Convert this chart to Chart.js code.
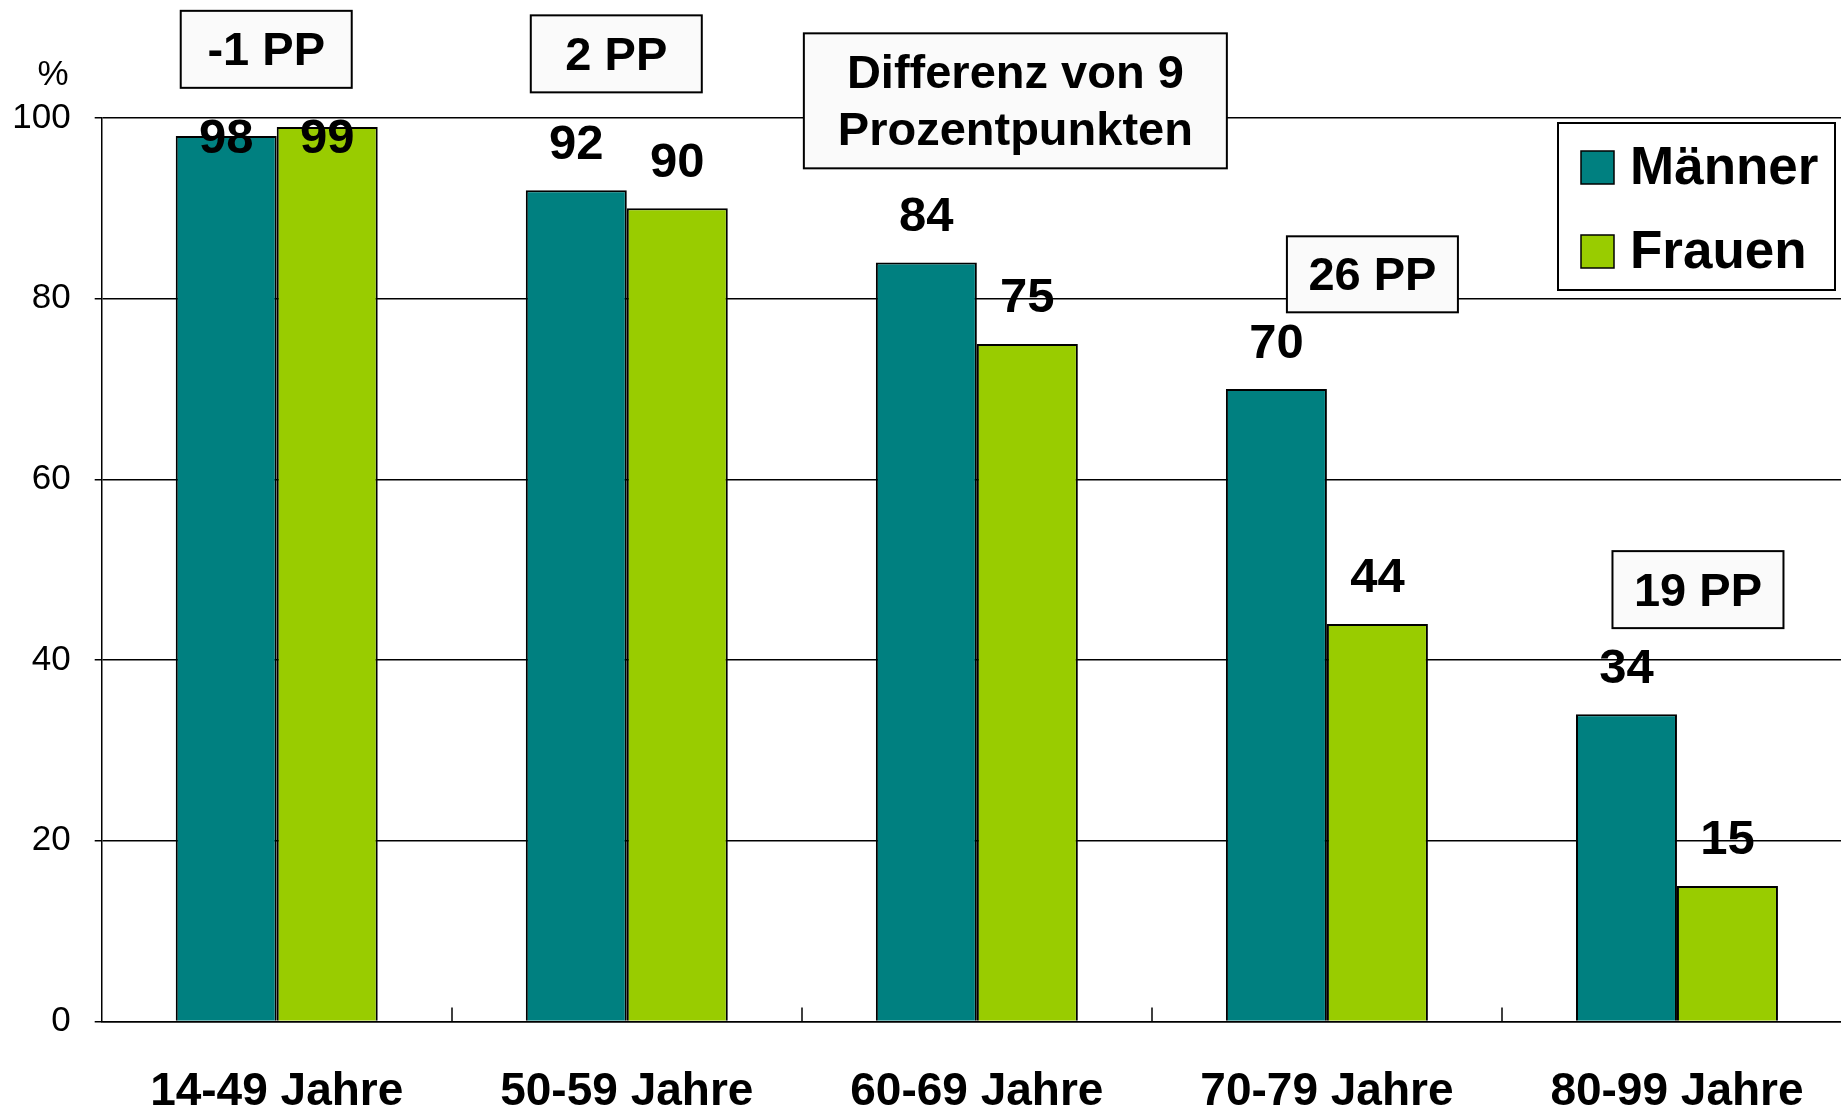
<!DOCTYPE html>
<html>
<head>
<meta charset="utf-8">
<script src="https://cdn.jsdelivr.net/npm/chart.js@4/dist/chart.umd.min.js"></script>
<style>
html, body { margin: 0; padding: 0; overflow: hidden; background: #fff; }
#wrap { width: 1852px; height: 1110px; }
</style>
</head>
<body>
<div id="wrap"><canvas id="chart" width="1852" height="1110"></canvas></div>
<script>
const categories = ["14-49 Jahre", "50-59 Jahre", "60-69 Jahre", "70-79 Jahre", "80-99 Jahre"];
const maenner = [98, 92, 84, 70, 34];
const frauen = [99, 90, 75, 44, 15];
const yTicks = [0, 20, 40, 60, 80, 100];
const notes = [["-1 PP"], ["2 PP"], ["Differenz von 9", "Prozentpunkten"], ["26 PP"], ["19 PP"]];

// placement of the note boxes: [category position, value at box centre, width, height]
const noteLayout = [[-0.03, 107.6, 171, 77], [0.97, 107.1, 171, 77], [2.11, 101.9, 423, 135], [3.13, 82.7, 171, 76], [4.06, 47.8, 171, 77]];

const FONT = '"Liberation Sans", Arial, sans-serif';

const extras = {
    id: "extras",
    afterDatasetsDraw(chart) {
        const ctx = chart.ctx;
        const x = chart.scales.x;
        const y = chart.scales.y;
        const area = chart.chartArea;
        ctx.save();

        // small ticks between the groups
        ctx.strokeStyle = "#000";
        ctx.lineWidth = 1.5;
        for (let i = 1; i < categories.length; i++) {
            const px = Math.round((x.getPixelForValue(i - 1) + x.getPixelForValue(i)) / 2);
            ctx.beginPath();
            ctx.moveTo(px, area.bottom);
            ctx.lineTo(px, area.bottom - 14);
            ctx.stroke();
        }

        // value labels
        ctx.fillStyle = "#000";
        ctx.textAlign = "center";
        ctx.textBaseline = "middle";
        ctx.font = "bold 49px " + FONT;
        chart.data.datasets.forEach((ds, di) => {
            chart.getDatasetMeta(di).data.forEach((bar, i) => {
                const ly = Math.max(bar.y - 45, area.top + 21);
                ctx.fillText(ds.data[i], bar.x, ly);
            });
        });

        // "%" above the axis
        ctx.font = "35px " + FONT;
        ctx.fillText("%", 53, y.getPixelForValue(100) - 43);

        // note boxes
        notes.forEach((lines, i) => {
            const [pos, val, w, h] = noteLayout[i];
            const cx = x.getPixelForValue(pos);
            const cy = y.getPixelForValue(val);
            ctx.fillStyle = "#fafafa";
            ctx.strokeStyle = "#000";
            ctx.lineWidth = 2;
            ctx.fillRect(cx - w / 2, cy - h / 2, w, h);
            ctx.strokeRect(cx - w / 2, cy - h / 2, w, h);
            ctx.fillStyle = "#000";
            ctx.font = "bold 47px " + FONT;
            const lh = 57;
            lines.forEach((t, k) => {
                ctx.fillText(t, cx, cy + (k - (lines.length - 1) / 2) * lh + 3);
            });
        });

        // legend
        const lx = area.right - 294;
        const ly = area.top + 5;
        ctx.fillStyle = "#fff";
        ctx.fillRect(lx, ly, 277, 167);
        ctx.strokeStyle = "#000";
        ctx.lineWidth = 2;
        ctx.strokeRect(lx, ly, 277, 167);
        ctx.textAlign = "left";
        ctx.font = "bold 53px " + FONT;
        chart.data.datasets.forEach((ds, di) => {
            const rowY = ly + 44 + di * 84;
            ctx.fillStyle = ds.backgroundColor;
            ctx.fillRect(lx + 23, rowY - 16, 33, 33);
            ctx.lineWidth = 1.5;
            ctx.strokeRect(lx + 23, rowY - 16, 33, 33);
            ctx.fillStyle = "#000";
            ctx.fillText(ds.label, lx + 72, rowY + 2);
        });

        ctx.restore();
    }
};

const chart = new Chart(document.getElementById("chart"), {
    type: "bar",
    data: {
        labels: categories,
        datasets: [
            {
                label: "Männer",
                data: maenner,
                backgroundColor: "#008080",
                borderColor: "#000",
                borderWidth: 2
            },
            {
                label: "Frauen",
                data: frauen,
                backgroundColor: "#99cc00",
                borderColor: "#000",
                borderWidth: 2
            }
        ]
    },
    options: {
        responsive: false,
        animation: false,
        layout: { padding: { top: 118, right: 0, bottom: 0, left: 0 } },
        plugins: {
            legend: { display: false },
            tooltip: { enabled: false }
        },
        datasets: {
            bar: { categoryPercentage: 0.577, barPercentage: 1 }
        },
        scales: {
            x: {
                grid: { display: false },
                border: { color: "#000", width: 1.5 },
                ticks: {
                    color: "#000",
                    padding: 35,
                    font: { family: FONT, size: 46, weight: "bold" }
                },
                afterFit: s => { s.height = 88.5; }
            },
            y: {
                min: 0,
                max: 100,
                afterBuildTicks: s => { s.ticks = yTicks.map(v => ({ value: v })); },
                grid: { color: "#000", lineWidth: 1.5, tickLength: 7 },
                border: { color: "#000", width: 1.5 },
                ticks: {
                    color: "#000",
                    padding: 24,
                    font: { family: FONT, size: 35 }
                },
                afterFit: s => { s.width = 101.7; }
            }
        }
    },
    plugins: [extras]
});
</script>
</body>
</html>
